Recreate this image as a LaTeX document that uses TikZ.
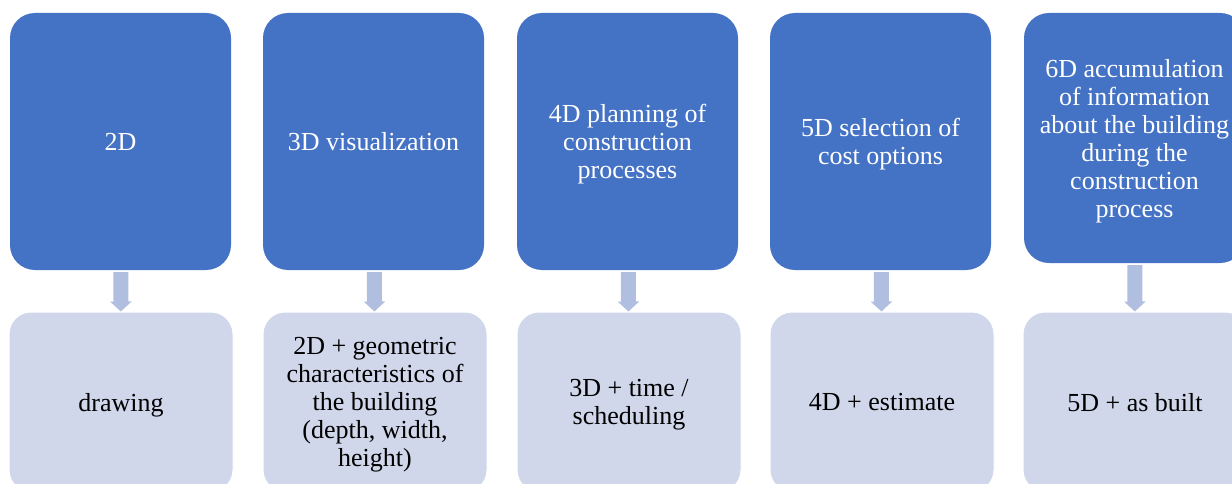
\documentclass[tikz,border=0pt]{standalone}
\usepackage{fontspec}
\setmainfont{Liberation Serif}
\usetikzlibrary{arrows.meta}

\definecolor{dimblue}{HTML}{4472C4}
\definecolor{dimpale}{HTML}{D0D7EB}
\definecolor{dimarrow}{HTML}{B0BEE0}

\begin{document}
\begin{tikzpicture}[x=1pt,y=-1pt,
    dim/.style={fill=dimblue,rounded corners=25pt,minimum width=221pt,minimum height=257pt,
      text=white,align=center,font=\fontsize{26}{28}\selectfont,inner sep=0pt,text depth=0pt},
    use/.style={fill=dimpale,draw=white,line width=1pt,rounded corners=22pt,minimum width=224pt,
      minimum height=180pt,text=black,align=center,font=\fontsize{26}{28}\selectfont,inner sep=0pt,
      text depth=0pt},
    down/.style={draw=dimarrow,line width=15pt,shorten <=2pt,-{Triangle[width=21pt,length=10pt]}}]
      \useasboundingbox (0,0) rectangle (1232,484);
      \clip (0,0) rectangle (1232,484);
      % top row
      \node[dim] (d2) at (120.5,141.5) {2D};
      \node[dim] (d3) at (373.5,141.5) {3D visualization};
      \node[dim] (d4) at (627.5,141.5) {4D planning of\\construction\\processes};
      \node[dim] (d5) at (880.5,141.5) {5D selection of\\cost options};
      \node[dim,minimum height=250pt] (d6) at (1134.5,138) {6D accumulation\\of information\\about the building\\during the\\construction\\process};
      % bottom row
      \node[use] (u2) at (121,402) {drawing};
      \node[use] (u3) at (375,402) {2D + geometric\\characteristics of\\the building\\(depth, width,\\height)};
      \node[use] (u4) at (629,402) {3D + time /\\scheduling};
      \node[use] (u5) at (882,402) {4D + estimate};
      \node[use] (u6) at (1135,402) {5D + as built};
      % arrows
      \draw[down] (d2) -- (u2);
      \draw[down] (d3) -- (u3);
      \draw[down] (d4) -- (u4);
      \draw[down] (d5) -- (u5);
      \draw[down] (d6) -- (u6);
    \end{tikzpicture}
\end{document}
